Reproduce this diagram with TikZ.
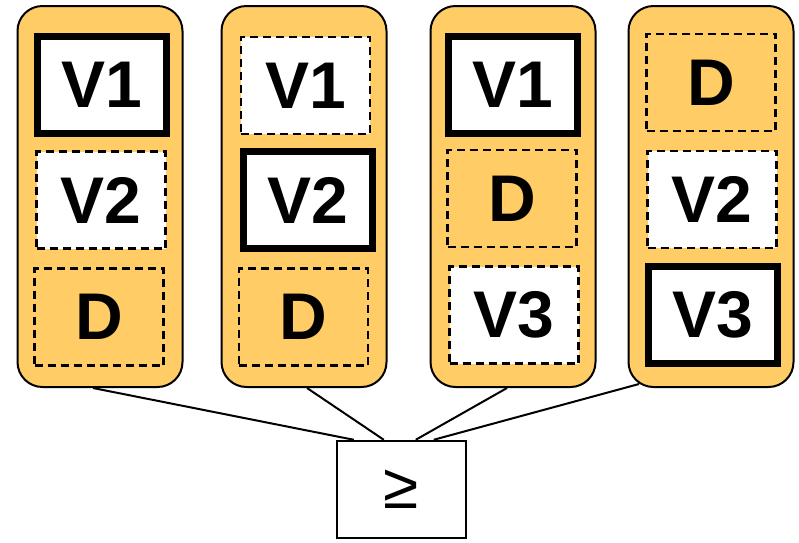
\documentclass[tikz,border=0pt]{standalone}
\usepackage{fontspec}
\setmainfont{Liberation Sans}
\usetikzlibrary{calc}

\definecolor{colfill}{RGB}{255,204,102}

\tikzset{
	column/.style={draw, line width=2pt, fill=colfill, rounded corners=25pt,
		minimum width=165pt, minimum height=381pt, inner sep=0pt},
	slot/.style={minimum width=129pt, minimum height=97pt, inner sep=0pt,
		font=\fontsize{66}{66}\selectfont\bfseries},
	chosen/.style={slot, draw, line width=7pt, fill=white},
	open/.style={slot, draw, line width=2.5pt, dash pattern=on 8pt off 5pt},
	compare/.style={draw, line width=2.5pt, fill=white, minimum width=129pt,
		minimum height=97pt, inner sep=0pt, font=\fontsize{64}{64}\selectfont},
}

\begin{document}
\begin{tikzpicture}[x=1pt, y=-1pt]
				\useasboundingbox (0,0) rectangle (799,542);
				\coordinate (A) at (100,196.5);
				\coordinate (B) at (304,196.5);
				\coordinate (C) at (513,196.5);
				\coordinate (D) at (711,196.5);
				\node[column] (col1) at (A) {};
				\node[column] (col2) at (B) {};
				\node[column] (col3) at (C) {};
				\node[column] (col4) at (D) {};
				% first column
				\node[chosen] (a1) at (101.5,85) {V1};
				\node[open, fill=white] (a2) at (101,200) {V2};
				\node[open] (a3) at (99,317) {D};
				% second column
				\node[open, fill=white] (b1) at (305.5,85.5) {V1};
				\node[chosen] (b2) at (308,200) {V2};
				\node[open] (b3) at (303.5,317) {D};
				% third column
				\node[chosen] (c1) at (512.5,85) {V1};
				\node[open] (c2) at (512,198.5) {D};
				\node[open, fill=white] (c3) at (514,315) {V3};
				% fourth column
				\node[open] (d1) at (711,82.5) {D};
				\node[open, fill=white] (d2) at (712,199.5) {V2};
				\node[chosen] (d3) at (712.5,315) {V3};
				\node[compare] (ge) at (401.5,489.5) {≥};
				\draw[line width=2pt] ($(col1.south)+(-7,0)$) -- ($(ge.north west)+(18,0)$);
				\draw[line width=2pt] ($(col2.south)+(3,0)$) -- ($(ge.north west)+(48,0)$);
				\draw[line width=2pt] ($(col3.south)+(-6,0)$) -- ($(ge.north west)+(80,0)$);
				\draw[line width=2pt] ($(col4.south)+(-72,-4)$) -- ($(ge.north west)+(98,0)$);
			\end{tikzpicture}
\end{document}
